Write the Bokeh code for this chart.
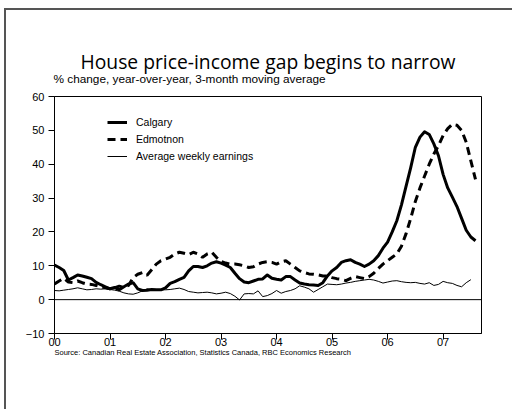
from bokeh.plotting import figure
from bokeh.models import (Span, Legend, LegendItem, FixedTicker, Range1d, Title)
from bokeh.embed import file_html
from bokeh.resources import INLINE

# ---- data (monthly, Jan 2000 = month 0) ----
calgary = [10.2, 9.5, 8.6, 5.8, 6.5, 7.3, 7.0, 6.6, 6.2, 5.1, 4.4, 3.8,
           3.2, 3.6, 2.9, 3.8, 4.6, 5.0, 3.2, 2.7, 2.8, 3.0, 2.9, 2.9,
           3.5, 4.8, 5.3, 6.0, 6.6, 8.5, 9.8, 9.8, 9.5, 10.0, 10.8, 11.2,
           10.8, 10.2, 9.5, 7.8, 6.2, 5.2, 5.0, 5.5, 6.0, 6.1, 7.3, 6.3,
           6.0, 5.8, 6.8, 6.8, 5.8, 4.9, 4.6, 4.4, 4.3, 4.2, 5.0, 7.0,
           8.5, 9.5, 11.0, 11.5, 11.8, 11.0, 10.5, 9.8, 10.5, 11.5, 13.0, 15.2,
           17.0, 20.0, 23.3, 28.0, 33.5, 39.0, 45.0, 48.0, 49.6, 48.8, 46.0, 42.5,
           37.0, 33.0, 30.3, 27.5, 24.0, 20.5, 18.5, 17.4]
edmonton = [4.6, 5.5, 6.3, 5.2, 5.0, 5.5, 5.0, 4.6, 4.5, 4.2, 3.8, 3.5,
            3.2, 3.5, 4.0, 3.6, 4.2, 6.5, 7.5, 8.0, 7.2, 8.8, 10.5, 11.5,
            12.0, 12.5, 13.5, 14.0, 13.7, 13.3, 14.0, 13.5, 12.5, 13.5, 14.0, 12.5,
            11.3, 10.8, 10.5, 10.5, 10.3, 10.0, 9.5, 9.7, 10.5, 11.0, 11.2, 11.0,
            10.5, 11.2, 11.5, 10.5, 9.5, 8.5, 8.0, 7.6, 7.5, 7.3, 7.0, 7.0,
            6.5, 6.2, 6.0, 5.6, 6.3, 6.8, 6.5, 6.2, 6.8, 7.8, 9.2, 10.5,
            11.5, 12.5, 13.5, 15.8, 19.5, 24.0, 29.0, 33.0, 36.5, 40.0, 43.0, 45.5,
            48.5, 50.5, 51.8, 51.5, 50.0, 46.5, 41.0, 35.5]
earnings = [2.7, 2.6, 2.8, 3.0, 3.2, 3.5, 3.2, 2.9, 3.0, 3.2, 3.1, 3.2,
            3.0, 2.8, 2.5, 2.0, 1.7, 1.6, 2.0, 2.6, 3.2, 3.0, 3.0, 2.9,
            2.9, 3.0, 3.2, 3.4, 3.0, 2.4, 2.2, 2.0, 2.1, 2.2, 2.0, 1.7,
            1.9, 2.2, 1.8, 1.0, -0.1, 1.7, 1.8, 1.7, 2.6, 0.9, 1.2, 1.8,
            2.7, 1.9, 2.4, 2.7, 3.2, 4.1, 3.7, 3.2, 2.2, 3.0, 3.8, 4.6,
            4.5, 4.4, 4.6, 4.9, 5.1, 5.4, 5.6, 5.8, 6.0, 5.8, 5.4, 4.9,
            5.2, 5.5, 5.6, 5.3, 5.1, 5.0, 5.1, 4.8, 4.6, 5.0, 4.2, 4.5,
            5.4, 5.0, 4.8, 4.2, 3.8, 5.0, 5.9]

year_labels = ["00", "01", "02", "03", "04", "05", "06", "07"]
year_ticks = [12 * i for i in range(len(year_labels))]
y_ticks = [-10, 0, 10, 20, 30, 40, 50, 60]

series_names = ["Calgary", "Edmotnon", "Average weekly earnings"]
title_text = "House price-income gap begins to narrow"
subtitle_text = "% change, year-over-year, 3-month moving average"
source_text = "Source: Canadian Real Estate Association, Statistics Canada, RBC Economics Research"

SANS = "Liberation Sans"

p = figure(width=512, height=409, output_backend="svg", toolbar_location=None,
           x_range=Range1d(0, 92.3), y_range=Range1d(-10, 60),
           min_border_left=54, min_border_right=31, min_border_top=96,
           min_border_bottom=76)
# outer chart frame (left and top edges) drawn as CSS background behind a transparent border area
p.styles = {
    "background-color": "white",
    "background-image": "linear-gradient(#555, #555), linear-gradient(#555, #555)",
    "background-size": "2px 100%, 100% 2px",
    "background-position": "4px 8px, 4px 8px",
    "background-repeat": "no-repeat",
}
p.background_fill_color = "white"
p.border_fill_color = None
p.outline_line_color = "black"
p.outline_line_width = 1
p.grid.visible = False

# axes
p.yaxis.ticker = FixedTicker(ticks=y_ticks)
p.yaxis.major_tick_out = 6
p.yaxis.major_tick_in = 0
p.yaxis.minor_tick_out = 0
p.yaxis.minor_tick_in = 0
p.yaxis.major_label_standoff = 4
p.yaxis.major_label_text_font = SANS
p.yaxis.major_label_text_font_size = "11px"
p.yaxis.major_label_text_color = "black"
p.yaxis.axis_line_color = "black"
p.yaxis.major_tick_line_color = "black"

p.xaxis.ticker = FixedTicker(ticks=year_ticks)
p.xaxis.major_label_overrides = {t: l for t, l in zip(year_ticks, year_labels)}
p.xaxis.major_tick_out = 6
p.xaxis.major_tick_in = 0
p.xaxis.minor_tick_out = 0
p.xaxis.minor_tick_in = 0
p.xaxis.major_label_standoff = -2
p.xaxis.major_label_text_font = SANS
p.xaxis.major_label_text_font_size = "11px"
p.xaxis.major_label_text_color = "black"
p.xaxis.axis_line_color = "black"
p.xaxis.major_tick_line_color = "black"

# zero line
p.add_layout(Span(location=0, dimension="width", line_color="black", line_width=1))

m_c = list(range(len(calgary)))
m_e = list(range(len(edmonton)))
m_w = list(range(len(earnings)))

r1 = p.line(m_c, calgary, line_color="black", line_width=3, line_join="round")
r2 = p.line(m_e, edmonton, line_color="black", line_width=3, line_dash="8 5")
r3 = p.line(m_w, earnings, line_color="black", line_width=1)

legend = Legend(items=[LegendItem(label=series_names[0], renderers=[r1]),
                       LegendItem(label=series_names[1], renderers=[r2]),
                       LegendItem(label=series_names[2], renderers=[r3])],
                location=(53, 169))
legend.background_fill_alpha = 0
legend.border_line_color = None
legend.padding = 0
legend.margin = 0
legend.spacing = 1
legend.glyph_width = 20
legend.glyph_height = 16
legend.label_height = 16
legend.label_standoff = 9
legend.label_text_font = SANS
legend.label_text_font_size = "10.5px"
legend.label_text_color = "black"
p.add_layout(legend, "center")

# titles (subtitle nearest the frame, main title above it) and source below
p.add_layout(Title(text=subtitle_text, align="left", offset=-1, standoff=22,
                   text_font=SANS, text_font_size="11.8px",
                   text_font_style="normal", text_color="black"), "above")
p.add_layout(Title(text=title_text, align="center", offset=-3, standoff=-32,
                   text_font="Open Sans", text_font_size="19.3px",
                   text_font_style="normal", text_color="black"), "above")
p.add_layout(Title(text=source_text, align="left", offset=0, standoff=-16,
                   text_font=SANS, text_font_size="7.5px",
                   text_font_style="normal", text_color="black"), "below")

open("out.html", "w").write(file_html(p, INLINE))
